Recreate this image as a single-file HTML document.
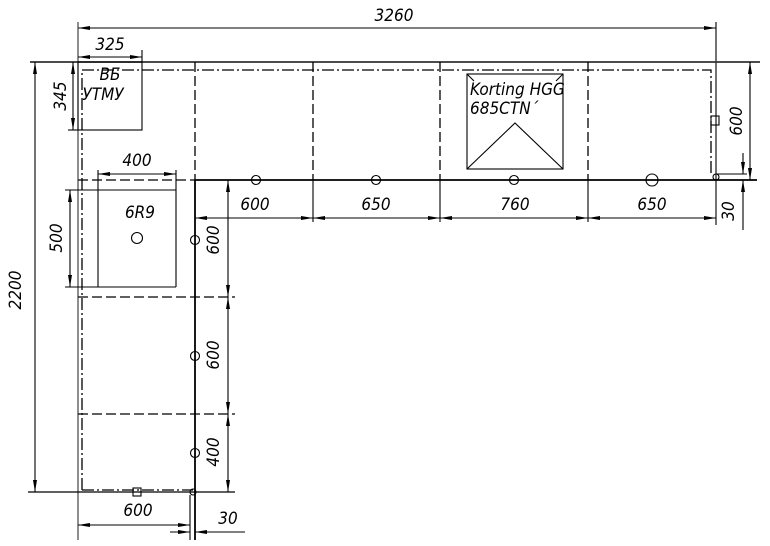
<!DOCTYPE html>
<html><head><meta charset="utf-8"><style>
html,body{margin:0;padding:0;background:#fff}
svg{display:block}
text{font-family:"DejaVu Sans Condensed","Liberation Sans",sans-serif;font-style:italic;font-size:17px;fill:#000}
</style></head><body>
<svg width="770" height="546" viewBox="0 0 770 546" xmlns="http://www.w3.org/2000/svg">
<defs>
<marker id="a" viewBox="0 0 12 6" refX="12" refY="3" markerWidth="12" markerHeight="6" orient="auto-start-reverse" markerUnits="userSpaceOnUse"><path d="M0,1 L12,3 L0,5 Z" fill="#000"/></marker>
</defs>
<g stroke="#000" fill="none" stroke-width="1.1">
<line x1="78" y1="28" x2="716" y2="28" marker-start="url(#a)" marker-end="url(#a)"/>
<line x1="78" y1="22" x2="78" y2="540" stroke="#333"/>
<line x1="716" y1="22" x2="716" y2="225"/>
<line x1="30" y1="62" x2="760" y2="62" stroke="#333" stroke-width="1.8"/>
<line x1="78" y1="57" x2="142" y2="57" marker-start="url(#a)" marker-end="url(#a)"/>
<line x1="142" y1="50" x2="142" y2="62"/>
<rect x="78" y="62" width="64" height="68"/>
<line x1="73" y1="62" x2="73" y2="130" marker-start="url(#a)" marker-end="url(#a)"/>
<line x1="68" y1="130" x2="78" y2="130"/>
<path d="M82,490 L82,70 L711,70 L711,175" stroke-dasharray="12,3,2,3" stroke="#000" stroke-width="1.3"/>
<path d="M82,490 L193,490" stroke-dasharray="12,3,2,3" stroke="#000" stroke-width="1.3"/>
<g stroke-width="1.3" stroke-dasharray="10,4">
<line x1="195" y1="62" x2="195" y2="180"/>
<line x1="313" y1="62" x2="313" y2="180"/>
<line x1="440" y1="62" x2="440" y2="180"/>
<line x1="588" y1="62" x2="588" y2="180"/>
<line x1="78" y1="180" x2="195" y2="180"/>
<line x1="78" y1="297" x2="235" y2="297"/>
<line x1="78" y1="414" x2="235" y2="414"/>
</g>
<line x1="313" y1="180" x2="313" y2="222"/>
<line x1="440" y1="180" x2="440" y2="222"/>
<line x1="588" y1="180" x2="588" y2="222"/>
<line x1="195" y1="180" x2="757" y2="180" stroke-width="1.8"/>
<line x1="195" y1="180" x2="195" y2="540" stroke-width="1.8"/>
<line x1="195" y1="218" x2="313" y2="218" marker-start="url(#a)" marker-end="url(#a)"/>
<line x1="313" y1="218" x2="440" y2="218" marker-start="url(#a)" marker-end="url(#a)"/>
<line x1="440" y1="218" x2="588" y2="218" marker-start="url(#a)" marker-end="url(#a)"/>
<line x1="588" y1="218" x2="716" y2="218" marker-start="url(#a)" marker-end="url(#a)"/>
<circle cx="256" cy="180" r="4.5"/><circle cx="376" cy="180" r="4.5"/><circle cx="514" cy="180" r="4.5"/><circle cx="652" cy="180" r="6"/>
<circle cx="716" cy="177" r="3"/>
<rect x="711" y="116" width="8" height="9"/>
<line x1="750" y1="62" x2="750" y2="180" marker-start="url(#a)" marker-end="url(#a)"/>
<line x1="716" y1="174" x2="747" y2="174"/>
<line x1="743" y1="153" x2="743" y2="174" marker-end="url(#a)"/>
<line x1="743" y1="230" x2="743" y2="180" marker-end="url(#a)"/>
<rect x="467" y="74" width="96" height="95"/>
<path d="M467,169 L515,123 L563,169"/>
<line x1="467" y1="74" x2="474" y2="81"/><line x1="563" y1="74" x2="556" y2="81"/>
<line x1="35" y1="62" x2="35" y2="492" marker-start="url(#a)" marker-end="url(#a)"/>
<line x1="28" y1="492" x2="235" y2="492" stroke-width="1.3"/>
<line x1="65" y1="190" x2="176" y2="190"/>
<line x1="65" y1="287" x2="176" y2="287"/>
<line x1="98" y1="190" x2="98" y2="287"/>
<line x1="176" y1="190" x2="176" y2="287"/>
<line x1="98" y1="170" x2="98" y2="190"/><line x1="176" y1="170" x2="176" y2="190"/>
<line x1="98" y1="174" x2="176" y2="174" marker-start="url(#a)" marker-end="url(#a)"/>
<line x1="70" y1="190" x2="70" y2="287" marker-start="url(#a)" marker-end="url(#a)"/>
<circle cx="137" cy="238" r="5.5"/>
<line x1="228" y1="180" x2="228" y2="297" marker-start="url(#a)" marker-end="url(#a)"/>
<line x1="228" y1="297" x2="228" y2="414" marker-start="url(#a)" marker-end="url(#a)"/>
<line x1="228" y1="414" x2="228" y2="492" marker-start="url(#a)" marker-end="url(#a)"/>
<circle cx="195" cy="240" r="4.5"/><circle cx="195" cy="356" r="4.5"/><circle cx="195" cy="453" r="4.5"/>
<rect x="133" y="488" width="8" height="8"/>
<circle cx="193" cy="492" r="3"/>
<line x1="190" y1="495" x2="190" y2="540"/>
<line x1="78" y1="525" x2="190" y2="525" marker-start="url(#a)" marker-end="url(#a)"/>
<line x1="170" y1="532" x2="190" y2="532" marker-end="url(#a)"/>
<line x1="245" y1="532" x2="195" y2="532" marker-end="url(#a)"/>
</g>
<text x="394" y="21" text-anchor="middle">3260</text>
<text x="110" y="50" text-anchor="middle">325</text>
<text x="110" y="80" text-anchor="middle" font-size="15">ВБ</text>
<text x="103" y="100" text-anchor="middle" font-size="15">УТМУ</text>
<text transform="translate(66,96) rotate(-90)" text-anchor="middle">345</text>
<text x="137" y="166" text-anchor="middle">400</text>
<text x="140" y="218" text-anchor="middle">6R9</text>
<text transform="translate(62,238) rotate(-90)" text-anchor="middle">500</text>
<text transform="translate(21,290) rotate(-90)" text-anchor="middle">2200</text>
<text x="255" y="210" text-anchor="middle">600</text>
<text x="376" y="210" text-anchor="middle">650</text>
<text x="515" y="210" text-anchor="middle">760</text>
<text x="652" y="210" text-anchor="middle">650</text>
<text transform="translate(742,121) rotate(-90)" text-anchor="middle">600</text>
<text transform="translate(734,211) rotate(-90)" text-anchor="middle">30</text>
<text x="470" y="95" font-size="15">Korting HGG</text>
<text x="470" y="114" font-size="15">685CTN´</text>
<text transform="translate(219,240) rotate(-90)" text-anchor="middle">600</text>
<text transform="translate(219,355) rotate(-90)" text-anchor="middle">600</text>
<text transform="translate(219,452) rotate(-90)" text-anchor="middle">400</text>
<text x="138" y="516" text-anchor="middle">600</text>
<text x="228" y="524" text-anchor="middle">30</text>
</svg>
</body></html>
